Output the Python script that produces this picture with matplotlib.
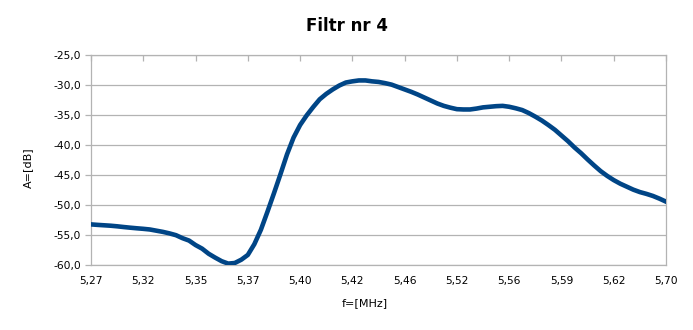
import matplotlib
matplotlib.use("Agg")
import matplotlib.pyplot as plt
import numpy as np

# tłumienie filtra, 8 punktów na przedział etykiety
amp_db = [-53.3, -53.38, -53.45, -53.52, -53.62, -53.74, -53.85, -53.95, -54.04, -54.15,
          -54.35, -54.55, -54.8, -55.1, -55.6, -56.0, -56.75, -57.35, -58.2, -58.85,
          -59.45, -59.85, -59.75, -59.2, -58.4, -56.6, -54.2, -51.2, -48.1, -44.9,
          -41.6, -38.8, -36.7, -35.1, -33.7, -32.4, -31.5, -30.75, -30.1, -29.6,
          -29.4, -29.25, -29.25, -29.4, -29.5, -29.7, -29.95, -30.35, -30.75, -31.15,
          -31.6, -32.1, -32.6, -33.1, -33.5, -33.8, -34.05, -34.1, -34.1, -33.95,
          -33.75, -33.65, -33.55, -33.5, -33.65, -33.9, -34.2, -34.7, -35.3, -35.95,
          -36.7, -37.5, -38.45, -39.4, -40.45, -41.4, -42.45, -43.45, -44.4, -45.2,
          -45.9, -46.5, -47.0, -47.5, -47.9, -48.2, -48.55, -49.0, -49.5]
freq_labels = ["5,27", "5,32", "5,35", "5,37", "5,40", "5,42",
               "5,46", "5,52", "5,56", "5,59", "5,62", "5,70"]
y_ticks = [-60, -55, -50, -45, -40, -35, -30, -25]

blue = "#004586"
grey = "#b3b3b3"

fig = plt.figure(figsize=(6.93, 3.30), dpi=100)
ax = fig.add_axes([91/693, 1-264.5/330, 575/693, 209.5/330])

idx = np.arange(len(amp_db))
ax.plot(idx, amp_db, color=blue, lw=3.3, solid_joinstyle="round", zorder=3)

step = (len(amp_db) - 1) // (len(freq_labels) - 1)
ax.set_xlim(0, len(amp_db) - 1)
ax.set_ylim(-60, -25)
ax.set_xticks(idx[::step])
ax.set_xticklabels(freq_labels)
ax.set_yticks(y_ticks)
ax.set_yticklabels([("%.1f" % v).replace(".", ",") for v in y_ticks])

ax.yaxis.grid(True, color=grey, lw=0.9)
ax.set_axisbelow(True)
for s in ax.spines.values():
    s.set_color(grey)
    s.set_linewidth(0.9)

# oś X leży u góry (ticki do środka), etykiety na dole
ax.tick_params(axis="x", top=True, bottom=False, labeltop=False, labelbottom=True,
               direction="in", length=4, width=0.9, color=grey, pad=8,
               labelsize=7.7, labelcolor="black")
ax.tick_params(axis="y", direction="out", length=4, width=0.9, color=grey, pad=3,
               labelsize=7.7, labelcolor="black")

fig.text(0.5, 1-26/330, "Filtr nr 4", ha="center", va="center",
         fontsize=12, fontweight="bold")
fig.text(28/693, 1-168/330, "A=[dB]", ha="center", va="center",
         rotation=90, fontsize=8)
fig.text(365/693, 1-303/330, "f=[MHz]", ha="center", va="center", fontsize=8)

fig.savefig("out.png", dpi=100)
